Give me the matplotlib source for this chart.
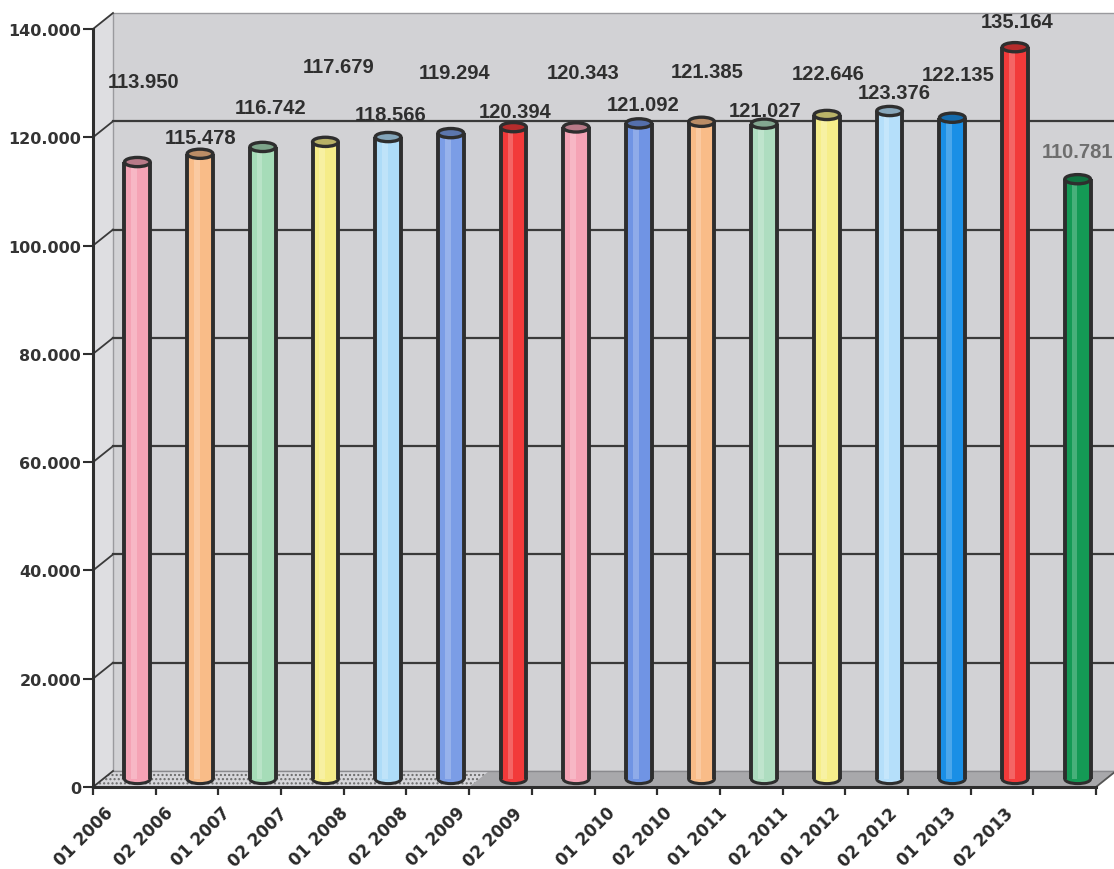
import matplotlib
matplotlib.use("Agg")
import matplotlib.pyplot as plt
from matplotlib.patches import Polygon, Ellipse, Rectangle
from matplotlib.lines import Line2D
from matplotlib.transforms import ScaledTranslation, IdentityTransform
from matplotlib.colors import to_rgb

# ---- data -------------------------------------------------------------
periods = ["01 2006", "02 2006", "01 2007", "02 2007", "01 2008", "02 2008",
           "01 2009", "02 2009", "01 2010", "02 2010", "01 2011", "02 2011",
           "01 2012", "02 2012", "01 2013", "02 2013"]
values = [113950, 115478, 116742, 117679, 118566, 119294, 120394, 120343,
          121092, 121385, 121027, 122646, 123376, 122135, 135164, 110781]
bar_colors = ["#f5a3b5", "#f9bc88", "#a6dcb8", "#f5ec88", "#aedcf8", "#7b9de6",
              "#f23a3a", "#f5a3b5", "#7094e4", "#f9bc88", "#aeddc0", "#f6ee8a",
              "#b5dffa", "#1a8fe6", "#f23a3a", "#149a55"]
y_ticks = [0, 20000, 40000, 60000, 80000, 100000, 120000, 140000]
y_tick_labels = ["0", "20.000", "40.000", "60.000", "80.000", "100.000",
                 "120.000", "140.000"]

# ---- layout / style ---------------------------------------------------
DPI = 100
W, H = 1114, 870
DARK = "#2e2e2e"
# pixel offsets of the label boxes relative to each cylinder top
label_offsets = [(6, 81), (1, 16), (8, 39), (13, 75), (3, 23), (4, 61),
                 (2, 16), (7, 55), (4, 19), (6, 50), (1, 13), (1, 41),
                 (5, 19), (6, 43), (2, 26), (0, 28)]
# horizontal positions of the rotated period labels (category units)
period_label_pos = [0.27, 1.23, 2.14, 3.06, 4.02, 4.98, 5.89, 6.81,
                    8.28, 9.20, 10.08, 11.04, 11.88, 12.79, 13.72, 14.63]

fig = plt.figure(figsize=(W / DPI, H / DPI), dpi=DPI)
fig.patch.set_facecolor("white")
ax = fig.add_axes([93 / W, (H - 788) / H, (1096 - 93) / W, (788 - 30) / H])
ax.patch.set_visible(False)
ax.set_xlim(0, 16)
ax.set_ylim(0, 140000)

DEPTH_X, DEPTH_Y = 20, 16          # back wall offset in pixels
MID_X, MID_Y = 13, 8               # cylinder row offset in pixels


def shifted(dx, dy):
    return ax.transData + ScaledTranslation(dx / DPI, dy / DPI, fig.dpi_scale_trans)


back = shifted(DEPTH_X, DEPTH_Y)
mid = shifted(MID_X, MID_Y)
ident = IdentityTransform()


def disp(x, v, dx=0, dy=0):
    px, py = ax.transData.transform((x, v))
    return (px + dx, py + dy)


# ---- walls and floor ---------------------------------------------------
left_wall = Polygon([disp(0, 0), disp(0, 140000),
                     disp(0, 140000, DEPTH_X, DEPTH_Y), disp(0, 0, DEPTH_X, DEPTH_Y)],
                    closed=True, transform=ident, fc="#dedee1", ec="none",
                    zorder=0, clip_on=False)
ax.add_artist(left_wall)

back_wall = Rectangle((0, 0), 16, 140000, transform=back, fc="#d2d2d5",
                      ec="#9a9a9e", lw=1.0, zorder=0, clip_on=False)
ax.add_artist(back_wall)

floor = Polygon([disp(0, 0), disp(16, 0), disp(16, 0, DEPTH_X, DEPTH_Y),
                 disp(0, 0, DEPTH_X, DEPTH_Y)], closed=True, transform=ident,
                fc="#a8a8ab", ec="none", zorder=0.5, clip_on=False)
ax.add_artist(floor)
floor_left = Polygon([disp(0, 0), disp(6, 0), disp(6, 0, DEPTH_X, DEPTH_Y),
                      disp(0, 0, DEPTH_X, DEPTH_Y)], closed=True, transform=ident,
                     fc="#d6d6da", ec="#6a6a6a", lw=0, hatch="....",
                     zorder=0.6, clip_on=False)
ax.add_artist(floor_left)

# gridlines on the back wall plus depth lines on the side wall
for v in y_ticks:
    if 0 < v < 140000:
        ax.plot([0, 16], [v, v], transform=back, color="#3a3a3a", lw=1.6,
                zorder=1, clip_on=False)
    p0, p1 = disp(0, v), disp(0, v, DEPTH_X, DEPTH_Y)
    ax.add_artist(Line2D([p0[0], p1[0]], [p0[1], p1[1]], transform=ident,
                         color="#3a3a3a", lw=1.3, zorder=1, clip_on=False))
p0, p1 = disp(16, 0), disp(16, 0, DEPTH_X, DEPTH_Y)
ax.add_artist(Line2D([p0[0], p1[0]], [p0[1], p1[1]], transform=ident,
                     color="#555555", lw=1.3, zorder=1, clip_on=False))
ax.plot([0, 16], [0, 0], transform=back, color="#8a8a8e", lw=1.0, zorder=0.7,
        clip_on=False)

# ---- cylinders ---------------------------------------------------------
xs = [i + 0.5 for i in range(len(values))]
BW = 0.41
CAP = 1700


def shade(c, f):
    r, g, b = to_rgb(c)
    return (r * f, g * f, b * f)


bars = ax.bar(xs, values, width=BW, color=bar_colors, edgecolor="none", zorder=4)
for r in bars:
    r.set_transform(mid)
    r.set_clip_on(False)
gloss = ax.bar([x - BW * 0.12 for x in xs], values, width=BW * 0.22,
               color="white", alpha=0.22, edgecolor="none", zorder=4.5)
for r in gloss:
    r.set_transform(mid)
    r.set_clip_on(False)

for x, v, c in zip(xs, values, bar_colors):
    ax.add_patch(Ellipse((x, 0), BW, CAP, transform=mid, fc=c, ec=DARK,
                         lw=2.2, zorder=3.5, clip_on=False))
    for sx in (x - BW / 2, x + BW / 2):
        ax.plot([sx, sx], [0, v], transform=mid, color=DARK, lw=2.8,
                solid_capstyle="butt", zorder=5, clip_on=False)
    ax.add_patch(Ellipse((x, v), BW, CAP, transform=mid, fc=shade(c, 0.75),
                         ec=DARK, lw=2.4, zorder=6, clip_on=False))

# ---- value labels ------------------------------------------------------
for i, (x, v) in enumerate(zip(xs, values)):
    txt = f"{v:,}".replace(",", ".")
    dx, dy = label_offsets[i]
    ax.annotate(txt, xy=(x, v), xycoords=mid, xytext=(dx, dy),
                textcoords="offset pixels", ha="center", va="center",
                fontsize=14.5, fontweight="bold", family="Liberation Sans",
                color="#6e6e6e" if i == len(values) - 1 else "#2f2f2f",
                zorder=8, annotation_clip=False)

# ---- axes --------------------------------------------------------------
for s in ("top", "right"):
    ax.spines[s].set_visible(False)
for s in ("left", "bottom"):
    ax.spines[s].set_color(DARK)
    ax.spines[s].set_linewidth(2.2)
    ax.spines[s].set_zorder(7)

ax.set_yticks(y_ticks, y_tick_labels)
ax.tick_params(axis="y", length=7, width=1.5, pad=1.5, colors=DARK,
               labelsize=11.5)
for t in ax.get_yticklabels():
    t.set_fontweight("bold")
    t.set_color("#333333")

ax.set_xticks(range(0, 17))
ax.tick_params(axis="x", which="major", length=6, width=1.6, colors=DARK,
               labelbottom=False)
ax.set_xticks(period_label_pos, periods, minor=True)
ax.tick_params(axis="x", which="minor", length=0, pad=16.5, labelsize=12)
for t in ax.get_xticklabels(minor=True):
    t.set_rotation(45)
    t.set_ha("right")
    t.set_va("center")
    t.set_rotation_mode("anchor")
    t.set_fontweight("bold")
    t.set_color("#2a2a2a")

fig.savefig("out.png", dpi=DPI)
